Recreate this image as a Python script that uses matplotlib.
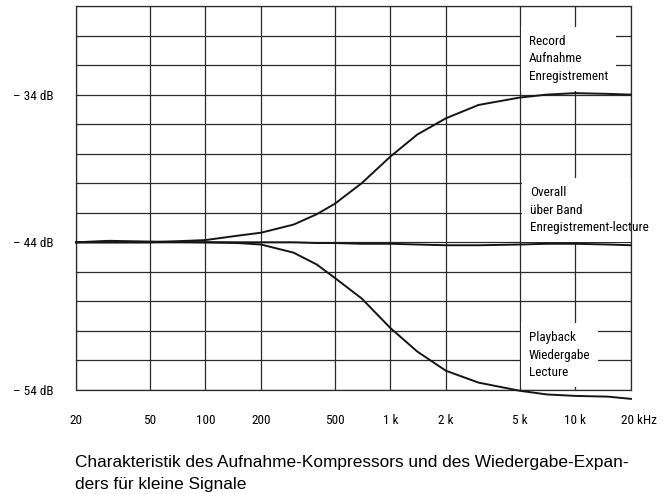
import matplotlib
matplotlib.use("Agg")
import matplotlib.pyplot as plt
import matplotlib.transforms as mtransforms
from matplotlib import font_manager as fm

# Data
freq = [20, 30, 50, 100, 150, 200, 300, 400, 500, 700, 1000, 1400, 2000, 3000, 5000, 7000, 10000, 15000, 20000]
record = [-44.0, -44.0, -44.0, -43.85, -43.55, -43.35, -42.8, -42.1, -41.4, -40.0, -38.2, -36.7, -35.6, -34.7, -34.2, -34.0, -33.9, -33.95, -34.0]
playback = [-44.0, -44.0, -44.0, -44.0, -44.05, -44.15, -44.7, -45.5, -46.4, -47.8, -49.8, -51.4, -52.7, -53.5, -54.05, -54.3, -54.4, -54.45, -54.6]
overall = [-44.0, -43.9, -43.95, -44.0, -44.0, -44.0, -44.0, -44.05, -44.05, -44.1, -44.1, -44.15, -44.2, -44.2, -44.15, -44.1, -44.1, -44.15, -44.2]

xtick_vals = [20, 50, 100, 200, 500, 1000, 2000, 5000, 10000, 20000]
xtick_labels = ["20", "50", "100", "200", "500", "1 k", "2 k", "5 k", "10 k", "20 kHz"]
ytick_vals = list(range(-54, -27, 2))
ytick_labels = {-34: "\u2013 34 dB", -44: "\u2013 44 dB", -54: "\u2013 54 dB"}

labels = {
    "record": "Record\nAufnahme\nEnregistrement",
    "overall": "Overall\n\u00fcber Band\nEnregistrement-lecture",
    "playback": "Playback\nWiedergabe\nLecture",
}
caption_lines = ["Charakteristik des Aufnahme-Kompressors und des Wiedergabe-Expan-",
                 "ders f\u00fcr kleine Signale"]

# pick a condensed face if one is installed
entries = [(f.name, f.stretch) for f in fm.fontManager.ttflist]
names = {n for n, _ in entries}
cond_kw = None
for cand in ["Liberation Sans Narrow", "Roboto Condensed", "Open Sans Condensed", "DejaVu Sans Condensed"]:
    if cand in names:
        cond_kw = dict(family=[cand, "DejaVu Sans"], fontsize=9.5)
        break
if cond_kw is None:
    if any(n == "DejaVu Sans" and s in ("condensed", 75, "semi-condensed") for n, s in entries):
        cond_kw = dict(family=["DejaVu Sans"], fontstretch="condensed", fontsize=9)
    else:
        cond_kw = dict(family=["Roboto", "DejaVu Sans"], fontsize=8.6)

fig = plt.figure(figsize=(6.7, 4.94), dpi=100)
ax = fig.add_axes([76/670, 104/494, 555/670, 384/494])
ax.set_xscale("log")
ax.set_xlim(20, 20000)
ax.set_ylim(-54, -28)

ax.set_xticks(xtick_vals)
ax.set_xticklabels(xtick_labels, **cond_kw)
ax.xaxis.set_minor_locator(matplotlib.ticker.NullLocator())
ax.set_yticks(ytick_vals)
ax.set_yticklabels([ytick_labels.get(v, "") for v in ytick_vals], **cond_kw)
ax.tick_params(axis="both", length=0)
ax.tick_params(axis="x", pad=17)
ax.tick_params(axis="y", pad=16)
lab = ax.get_xticklabels()[-1]
lab.set_transform(lab.get_transform() + mtransforms.ScaledTranslation(8/100, 0, fig.dpi_scale_trans))

ax.grid(True, color="#2a2a2a", linewidth=0.9)
ax.set_axisbelow(True)
for s in ax.spines.values():
    s.set_color("#2a2a2a")
    s.set_linewidth(0.9)

tr = ax.transAxes
def axpos(px, py):
    return ((px - 76) / 555, (390 - py) / 384)

bb = dict(facecolor="white", edgecolor="none", boxstyle="square,pad=0.6")
x0, y0 = axpos(529, 35)
ax.text(x0, y0, labels["record"], transform=tr, va="top", ha="left", linespacing=1.45,
        bbox=bb, zorder=2, **cond_kw)
x0, y0 = axpos(530, 186)
ax.text(x0, y0, labels["overall"], transform=tr, va="top", ha="left", linespacing=1.45,
        bbox=bb, zorder=2, clip_on=False, **cond_kw)
x0, y0 = axpos(529, 331)
ax.text(x0, y0, labels["playback"], transform=tr, va="top", ha="left", linespacing=1.45,
        bbox=bb, zorder=2, **cond_kw)

for series in (record, playback, overall):
    ax.plot(freq, series, color="#151515", linewidth=1.4, zorder=3, clip_on=False)

for i, line in enumerate(caption_lines):
    fig.text(75/670, 1 - (462 + 22 * i)/494, line, family=["Liberation Sans", "DejaVu Sans"],
             fontsize=12.4, va="center", ha="left")

fig.savefig("out.png", dpi=100)
